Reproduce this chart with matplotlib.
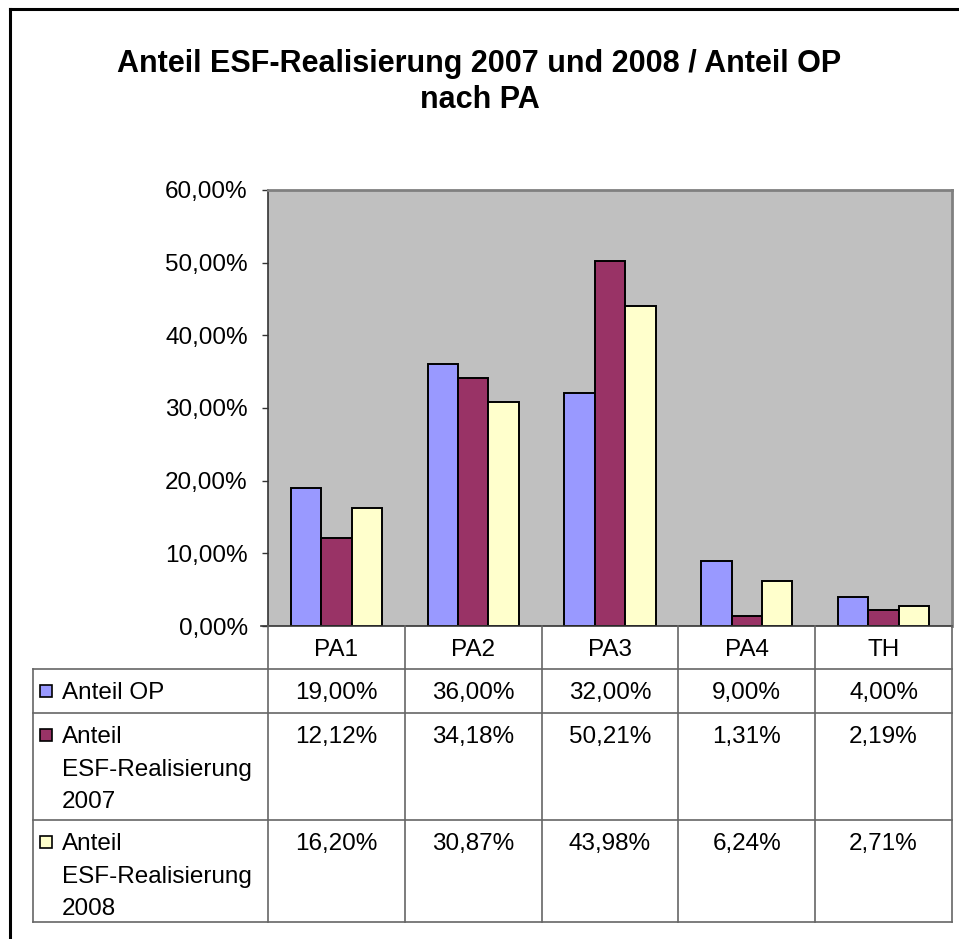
import matplotlib.pyplot as plt
from matplotlib.lines import Line2D
from matplotlib.patches import Rectangle

# Data
categories = ['PA1', 'PA2', 'PA3', 'PA4', 'TH']
series_names = ['Anteil OP', 'Anteil\nESF-Realisierung\n2007', 'Anteil\nESF-Realisierung\n2008']
anteil_op = [19.00, 36.00, 32.00, 9.00, 4.00]
esf_2007 = [12.12, 34.18, 50.21, 1.31, 2.19]
esf_2008 = [16.20, 30.87, 43.98, 6.24, 2.71]
yticks = [0, 10, 20, 30, 40, 50, 60]
colors = ['#9999FF', '#993366', '#FFFFCC']

series = [anteil_op, esf_2007, esf_2008]

def fmt(v):
    return f"{v:.2f}%".replace('.', ',')

W, H = 959, 939
plt.rcParams['font.family'] = ['Liberation Sans', 'DejaVu Sans']
fig = plt.figure(figsize=(W / 100, H / 100), dpi=100)

# plot area (pixel coords)
px_l, px_r, px_t, px_b = 268, 952, 190, 626
ax = fig.add_axes([px_l / W, 1 - px_b / H, (px_r - px_l) / W, (px_b - px_t) / H])
ax.set_facecolor('#C0C0C0')

n = len(categories)
bw = 0.222
for k, vals in enumerate(series):
    xs = [i + (k - 1) * bw for i in range(n)]
    ax.bar(xs, vals, width=bw, color=colors[k], edgecolor='black', linewidth=1.4, zorder=3)

ax.set_xlim(-0.5, n - 0.5)
ax.set_ylim(0, 60)
ax.set_yticks(yticks)
ax.set_yticklabels([fmt(v) for v in yticks], fontsize=17.5)
ax.set_xticks([])
ax.tick_params(axis='y', length=4.5, width=1, pad=10, color='#333333')
for s in ['top', 'right']:
    ax.spines[s].set_color('#808080')
    ax.spines[s].set_linewidth(2)
ax.spines['left'].set_color('#333333')
ax.spines['left'].set_linewidth(1.2)
ax.spines['bottom'].set_visible(False)

# overlay in pixel coordinates for frame, title and data table
ov = fig.add_axes([0, 0, 1, 1], facecolor='none')
ov.set_xlim(0, W)
ov.set_ylim(H, 0)
ov.axis('off')

# outer frame (cut at right/bottom)
ov.add_line(Line2D([10, 10], [9, H], color='black', lw=2.2))
ov.add_line(Line2D([10, W], [9, 9], color='black', lw=2.2))

ov.text(W / 2, 82, 'Anteil ESF-Realisierung 2007 und 2008 / Anteil OP\nnach PA',
        ha='center', va='center', fontsize=22, fontweight='bold', linespacing=1.3)

# table grid
lc = '#666666'
col_w = (px_r - px_l) / n
col_x = [px_l + i * col_w for i in range(n + 1)]
row_y = [669, 713, 820, 922]
tab_l = 33
ov.add_line(Line2D([px_l - 7, px_r], [px_b, px_b], color='#333333', lw=1.2))
for y in row_y:
    ov.add_line(Line2D([tab_l, px_r], [y, y], color=lc, lw=1.2))
ov.add_line(Line2D([tab_l, tab_l], [row_y[0], row_y[-1]], color=lc, lw=1.2))
for x in col_x:
    ov.add_line(Line2D([x, x], [px_b, row_y[-1]], color=lc, lw=1.2))

# header labels
for i, c in enumerate(categories):
    ov.text(col_x[i] + col_w / 2, (px_b + row_y[0]) / 2 + 2, c,
            ha='center', va='center', fontsize=17.5)

# rows
for k, vals in enumerate(series):
    top = row_y[k]
    ov.add_patch(Rectangle((40, top + 16), 12, 12, facecolor=colors[k],
                           edgecolor='black', lw=1.2))
    ov.text(62, top + 13, series_names[k], ha='left', va='top', fontsize=17.5,
            linespacing=1.62)
    for i, v in enumerate(vals):
        ov.text(col_x[i] + col_w / 2, top + 13, fmt(v), ha='center', va='top',
                fontsize=17.5)

fig.savefig('out.png', dpi=100)
